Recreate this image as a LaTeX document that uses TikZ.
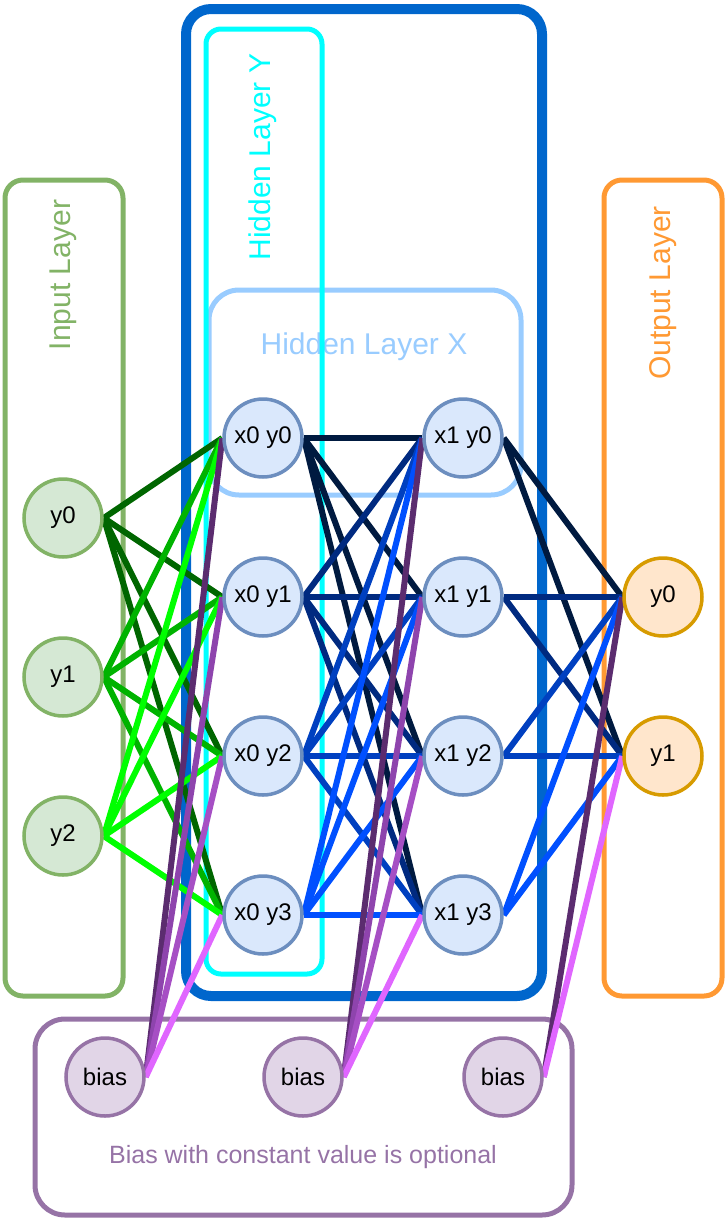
\documentclass[tikz,border=0pt]{standalone}
\usepackage{fontspec}
\setmainfont{Liberation Sans}
\definecolor{inStroke}{HTML}{82B366}
\definecolor{inFill}{HTML}{D5E8D4}
\definecolor{hidStroke}{HTML}{6C8EBF}
\definecolor{hidFill}{HTML}{DAE8FC}
\definecolor{outStroke}{HTML}{D79B00}
\definecolor{outFill}{HTML}{FFE6CC}
\definecolor{biasStroke}{HTML}{9673A6}
\definecolor{biasFill}{HTML}{E1D5E7}
\definecolor{outerBlue}{HTML}{0066CC}
\definecolor{cyanY}{HTML}{00FFFF}
\definecolor{lightX}{HTML}{99CCFF}
\definecolor{orangeL}{HTML}{FF9933}
\definecolor{gA}{HTML}{006600}
\definecolor{gB}{HTML}{00B300}
\definecolor{gC}{HTML}{00FF00}
\definecolor{bA}{HTML}{001A40}
\definecolor{bB}{HTML}{002A80}
\definecolor{bC}{HTML}{0040C0}
\definecolor{bD}{HTML}{0050FF}
\definecolor{pA}{HTML}{5B2C6F}
\definecolor{pB}{HTML}{8E44AD}
\definecolor{pC}{HTML}{A64FC4}
\definecolor{pD}{HTML}{E066FF}
\begin{document}
\begin{tikzpicture}[x=1pt,y=-1pt,
  layerbox/.style={draw, line width=5pt, rounded corners=18pt},
  neuron/.style={circle, draw, line width=3.5pt, minimum size=78pt, inner sep=0pt, font=\fontsize{24}{28}\selectfont},
  innode/.style={neuron, draw=inStroke, fill=inFill},
  hidnode/.style={neuron, draw=hidStroke, fill=hidFill},
  outnode/.style={neuron, draw=outStroke, fill=outFill},
  biasnode/.style={neuron, draw=biasStroke, fill=biasFill},
  lbl/.style={font=\fontsize{30}{34}\selectfont, inner sep=0pt},
  conn/.style={line width=6pt}]
\useasboundingbox (0,0) rectangle (726,1221);
% containers
\draw[outerBlue, line width=10pt, rounded corners=25pt] (186,9) rectangle (542,996);
\draw[lightX, line width=5pt, rounded corners=30pt] (209,290) rectangle (521,495);
\node[lbl, text=lightX] (labX) at (364,347) {Hidden Layer X};
\draw[cyanY, line width=5pt, rounded corners=15pt] (206,29) rectangle (322,974);
\node[lbl, text=cyanY, rotate=90] (labY) at (263,157) {Hidden Layer Y};
\draw[layerbox, inStroke] (5,180) rectangle (123,996);
\node[lbl, text=inStroke, rotate=90] (labIn) at (63,275) {Input Layer};
\draw[layerbox, orangeL] (604,180) rectangle (722,996);
\node[lbl, text=orangeL, rotate=90] (labOut) at (663,293) {Output Layer};
\draw[biasStroke, line width=5pt, rounded corners=30pt] (35,1019) rectangle (572,1215);
\node[font=\fontsize{25}{29}\selectfont, text=biasStroke, inner sep=0pt] (labBias) at (303,1157) {Bias with constant value is optional};
% node coordinates
\path
  (63,518) coordinate (pi0) (63,677) coordinate (pi1) (63,836) coordinate (pi2)
  (263,438) coordinate (pa0) (263,597) coordinate (pa1) (263,756) coordinate (pa2) (263,915) coordinate (pa3)
  (463,438) coordinate (pb0) (463,597) coordinate (pb1) (463,756) coordinate (pb2) (463,915) coordinate (pb3)
  (663,597) coordinate (po0) (663,756) coordinate (po1)
  (105,1077) coordinate (pq0) (303,1077) coordinate (pq1) (503,1077) coordinate (pq2);
% invisible anchor nodes
\foreach \i in {0,1,2} \node[innode, draw=none, fill=none, text opacity=0] (in\i) at (pi\i) {y\i};
\foreach \i in {0,1,2,3} {
  \node[hidnode, draw=none, fill=none, text opacity=0] (ha\i) at (pa\i) {x0 y\i};
  \node[hidnode, draw=none, fill=none, text opacity=0] (hb\i) at (pb\i) {x1 y\i};
}
\foreach \i in {0,1} \node[outnode, draw=none, fill=none, text opacity=0] (ou\i) at (po\i) {y\i};
\foreach \i in {0,1,2} \node[biasnode, draw=none, fill=none, text opacity=0] (bi\i) at (pq\i) {bias};
% edges input -> hidden x0
\foreach \s/\c in {0/gA,1/gB,2/gC}
  \foreach \t in {0,1,2,3}
    \draw[conn, \c] (in\s.east) -- (ha\t.west);
% hidden x0 -> x1
\foreach \s/\c in {0/bA,1/bB,2/bC,3/bD}
  \foreach \t in {0,1,2,3}
    \draw[conn, \c] (ha\s.east) -- (hb\t.west);
% hidden x1 -> output
\foreach \s/\c in {0/bA,1/bB,2/bC,3/bD}
  \foreach \t in {0,1}
    \draw[conn, \c] (hb\s.east) -- (ou\t.west);
% bias edges
\foreach \t/\c in {0/pA,1/pB,2/pC,3/pD} {
  \draw[conn, \c] (bi0.east) -- (ha\t.west);
  \draw[conn, \c] (bi1.east) -- (hb\t.west);
}
\draw[conn, pA] (bi2.east) -- (ou0.west);
\draw[conn, pD] (bi2.east) -- (ou1.west);
% visible nodes
\foreach \i in {0,1,2} \node[innode] (vin\i) at (pi\i) {y\i};
\foreach \i in {0,1,2,3} {
  \node[hidnode] (vha\i) at (pa\i) {x0 y\i};
  \node[hidnode] (vhb\i) at (pb\i) {x1 y\i};
}
\foreach \i in {0,1} \node[outnode] (vou\i) at (po\i) {y\i};
\foreach \i in {0,1,2} \node[biasnode] (vbi\i) at (pq\i) {bias};
\end{tikzpicture}
\end{document}
